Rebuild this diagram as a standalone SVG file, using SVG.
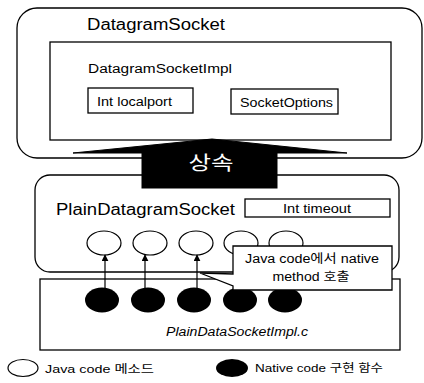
<svg xmlns="http://www.w3.org/2000/svg" width="424" height="383" viewBox="0 0 424 383">
<defs>
<style>
.ln{fill:#fff;stroke:#000;stroke-width:1.3}
.t{font-family:"Liberation Sans",Arial,"Noto Sans CJK KR",sans-serif;fill:#000}
.k{font-family:"Liberation Sans",Arial,"Noto Sans CJK KR",sans-serif;fill:#000}
.blk{fill:#000;stroke:#000;stroke-width:1}
.wc{fill:#fff;stroke:#000;stroke-width:1.2}
</style>
<marker id="ah" viewBox="0 0 10 10" refX="9" refY="5" markerWidth="7" markerHeight="7" orient="auto" markerUnits="userSpaceOnUse">
<path d="M0,0 L10,5 L0,10 z" fill="#000"/>
</marker>
</defs>
<rect width="424" height="383" fill="#fff"/>

<g id="datagramSocket">
<rect class="ln" x="17" y="8" width="405" height="150" rx="20"/>
<text class="t" x="87" y="30" font-size="16" textLength="138" lengthAdjust="spacingAndGlyphs">DatagramSocket</text>
</g>
<g id="datagramSocketImpl">
<rect class="ln" x="50" y="42" width="341" height="98"/>
<text class="t" x="88" y="73" font-size="12" textLength="144" lengthAdjust="spacingAndGlyphs">DatagramSocketImpl</text>
</g>
<g id="localport">
<rect class="ln" x="88" y="88" width="105" height="25"/>
<text class="t" x="97" y="106" font-size="12" textLength="75" lengthAdjust="spacingAndGlyphs">Int localport</text>
</g>
<g id="socketOptions">
<rect class="ln" x="231" y="89" width="107" height="25"/>
<text class="t" x="240" y="107" font-size="12" textLength="93" lengthAdjust="spacingAndGlyphs">SocketOptions</text>
</g>

<g id="plainDatagramSocket">
<rect class="ln" x="35" y="175" width="364" height="97" rx="15"/>
<text class="t" x="56" y="215" font-size="16" textLength="179" lengthAdjust="spacingAndGlyphs">PlainDatagramSocket</text>
</g>
<g id="timeout">
<rect class="ln" x="245" y="199" width="145" height="18"/>
<text class="t" x="283" y="213" font-size="12" textLength="68" lengthAdjust="spacingAndGlyphs">Int timeout</text>
</g>

<g id="inherit">
<path class="blk" d="M73,153 L212,139 L347,153 Z"/>
<rect class="blk" x="142" y="153" width="135" height="35"/>
<text class="k" x="211" y="170" font-size="19" text-anchor="middle" fill="#fff" style="fill:#fff" textLength="45" lengthAdjust="spacingAndGlyphs">상속</text>
</g>

<g id="plainDataSocketImplC">
<rect class="ln" x="40" y="279" width="360" height="71"/>
<text class="t" x="166" y="336" font-size="12" font-style="italic" textLength="142" lengthAdjust="spacingAndGlyphs">PlainDataSocketImpl.c</text>
</g>

<g id="javaMethods">
<ellipse class="wc" cx="104" cy="243" rx="17" ry="12"/>
<ellipse class="wc" cx="150" cy="243" rx="17" ry="12"/>
<ellipse class="wc" cx="196" cy="243" rx="17" ry="12"/>
<ellipse class="wc" cx="241" cy="243" rx="17" ry="12"/>
<ellipse class="wc" cx="286" cy="243" rx="17" ry="12"/>
</g>

<g id="nativeFunctions">
<ellipse cx="102" cy="300" rx="17" ry="12.5" fill="#000"/>
<ellipse cx="148" cy="300" rx="17" ry="12.5" fill="#000"/>
<ellipse cx="194" cy="300" rx="17" ry="12.5" fill="#000"/>
<ellipse cx="240" cy="300" rx="17" ry="12.5" fill="#000"/>
<ellipse cx="285" cy="300" rx="17" ry="12.5" fill="#000"/>
</g>

<g id="connectors" stroke="#000" stroke-width="1.2" fill="none">
<line x1="105" y1="290" x2="105" y2="255" marker-end="url(#ah)"/>
<line x1="145" y1="290" x2="145" y2="255" marker-end="url(#ah)"/>
<line x1="197" y1="290" x2="197" y2="255" marker-end="url(#ah)"/>
</g>

<g id="callout">
<path class="ln" d="M233,246 H392 V290 H233 V286 L200,273 L233,274 Z"/>
<text class="k" x="312" y="263" font-size="12" text-anchor="middle" textLength="134" lengthAdjust="spacingAndGlyphs">Java code에서 native</text>
<text class="k" x="311" y="281" font-size="12" text-anchor="middle" textLength="77" lengthAdjust="spacingAndGlyphs">method 호출</text>
</g>

<g id="legend">
<ellipse class="wc" cx="23" cy="368" rx="15" ry="8.5"/>
<text class="k" x="45" y="373" font-size="11" textLength="109" lengthAdjust="spacingAndGlyphs">Java code 메소드</text>
<ellipse cx="232" cy="368" rx="16" ry="9" fill="#000"/>
<text class="k" x="255" y="372" font-size="11" textLength="128" lengthAdjust="spacingAndGlyphs">Native code 구현 함수</text>
</g>
</svg>
